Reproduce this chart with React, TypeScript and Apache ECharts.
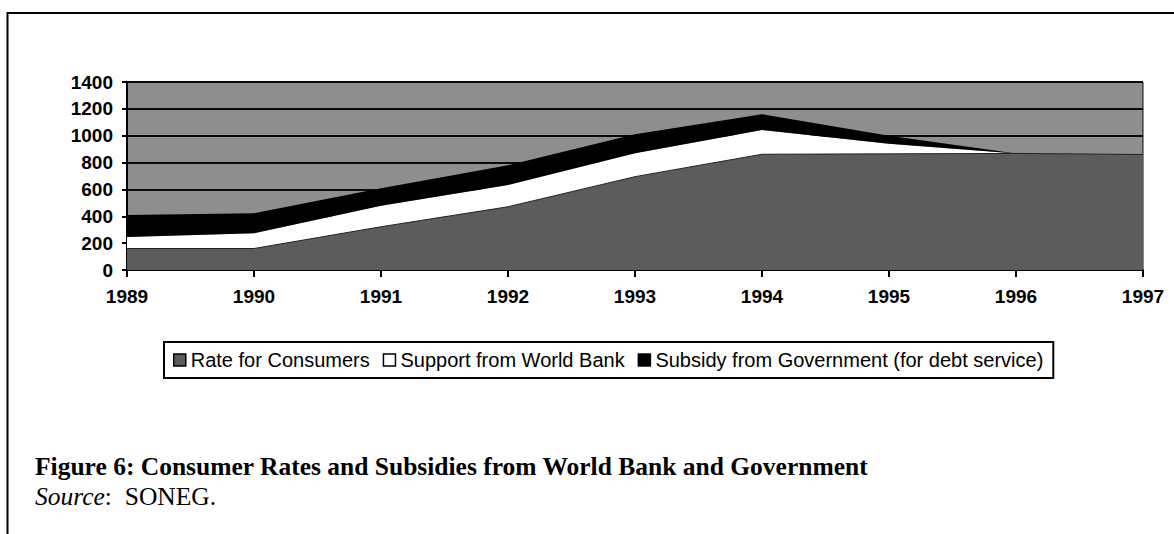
import React, { useEffect, useRef } from "react";
import * as echarts from "echarts";

const years = ["1989", "1990", "1991", "1992", "1993", "1994", "1995", "1996", "1997"];
const rateForConsumers = [160, 160, 322, 471, 695, 862, 865, 868, 860];
const supportWorldBank = [85, 113, 157, 162, 174, 180, 75, 0, 0];
const subsidyGovernment = [165, 150, 130, 147, 141, 118, 60, 0, 0];

const seriesNames = [
  "Rate for Consumers",
  "Support from World Bank",
  "Subsidy from Government (for debt service)",
];

const SANS = "'Liberation Sans', Arial, sans-serif";
const SERIF = "'Liberation Serif', 'Times New Roman', serif";

export default function App() {
  const ref = useRef<HTMLDivElement>(null);

  useEffect(() => {
    if (!ref.current) return;
    const chart = echarts.init(ref.current, undefined, { renderer: "svg" });
    const colors = ["#5c5c5c", "#ffffff", "#000000"];
    const values = [rateForConsumers, supportWorldBank, subsidyGovernment];

    chart.setOption({
      animation: false,
      backgroundColor: "#ffffff",
      grid: {
        left: 127,
        right: 31,
        top: 82,
        bottom: 264,
        show: true,
        backgroundColor: "#8e8e8e",
        borderColor: "#111",
        borderWidth: 1,
      },
      legend: {
        left: 164,
        top: 342,
        padding: [8, 10, 8, 9],
        itemGap: 13,
        itemWidth: 12,
        itemHeight: 12,
        borderColor: "#000",
        borderWidth: 2,
        textStyle: { fontFamily: SANS, fontSize: 20, color: "#000" },
        data: seriesNames.map((n, i) => ({
          name: n,
          icon: "rect",
          itemStyle: { color: colors[i], borderColor: "#000", borderWidth: 1.5 },
        })),
      },
      xAxis: {
        type: "category",
        data: years,
        boundaryGap: false,
        axisLine: { show: true, lineStyle: { color: "#000", width: 2 } },
        axisTick: { show: true, length: 7, inside: false, lineStyle: { color: "#000", width: 2 } },
        axisLabel: {
          margin: 17,
          fontFamily: SANS,
          fontSize: 19,
          fontWeight: "bold",
          color: "#000",
          showMaxLabel: true,
          showMinLabel: true,
        },
        splitLine: { show: false },
      },
      yAxis: {
        type: "value",
        min: 0,
        max: 1400,
        interval: 200,
        axisLine: { show: true, lineStyle: { color: "#000", width: 2 } },
        axisTick: { show: true, length: 5, lineStyle: { color: "#000", width: 2 } },
        axisLabel: {
          margin: 14,
          fontFamily: SANS,
          fontSize: 19,
          fontWeight: "bold",
          color: "#000",
          formatter: (v: number) => String(v),
        },
        splitLine: { show: true, lineStyle: { color: "#0a0a0a", width: 2 } },
      },
      series: seriesNames.map((n, i) => ({
        name: n,
        type: "line",
        stack: "total",
        data: values[i],
        showSymbol: false,
        symbol: "none",
        lineStyle: { width: i === 0 ? 1 : 0, color: "#222" },
        itemStyle: { color: colors[i] },
        areaStyle: { color: colors[i], opacity: 1 },
      })),
      graphic: [
        {
          type: "line",
          shape: { x1: 7.5, y1: 13, x2: 1174, y2: 13 },
          style: { stroke: "#000", lineWidth: 2 },
        },
        {
          type: "line",
          shape: { x1: 7.5, y1: 12, x2: 7.5, y2: 534 },
          style: { stroke: "#000", lineWidth: 2 },
        },
        {
          type: "text",
          x: 35,
          y: 466,
          style: {
            text: "Figure 6: Consumer Rates and Subsidies from World Bank and Government",
            fontFamily: SERIF,
            fontSize: 25.5,
            fontWeight: "bold",
            fill: "#000",
            verticalAlign: "middle",
          },
        },
        {
          type: "text",
          x: 35,
          y: 496,
          style: {
            text: "{i|Source}:  SONEG.",
            fontFamily: SERIF,
            fontSize: 25.5,
            fill: "#000",
            verticalAlign: "middle",
            rich: {
              i: { fontFamily: SERIF, fontSize: 25.5, fontStyle: "italic", fill: "#000" },
            },
          },
        },
      ],
    });

    return () => chart.dispose();
  }, []);

  return (
    <div
      ref={ref}
      style={{ position: "fixed", left: 0, top: 0, width: 1174, height: 534 }}
    />
  );
}
